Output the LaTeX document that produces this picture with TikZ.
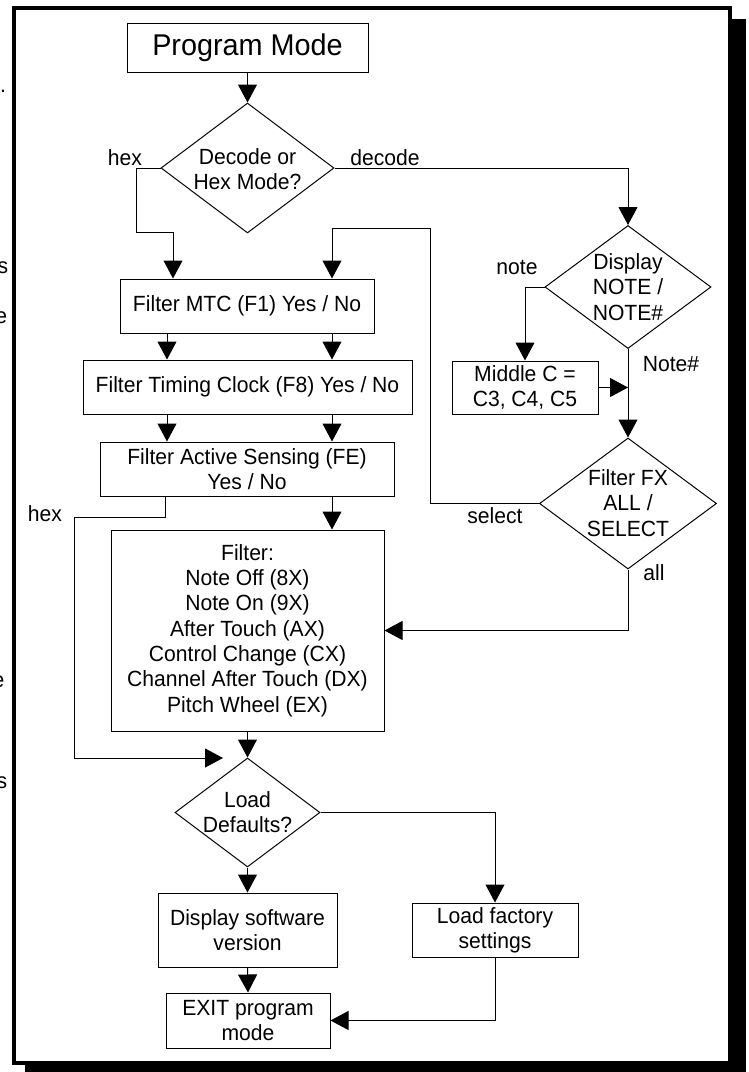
\documentclass[tikz,border=0pt]{standalone}
\usepackage{fontspec}
\setmainfont{Liberation Sans}[FakeStretch=0.96]
\usetikzlibrary{arrows.meta,shapes.geometric}
\newcommand\diafont{\fontsize{22}{25.3}\selectfont}
\newcommand\bigdiafont{\fontsize{30}{34}\selectfont}
\begin{document}
\begin{tikzpicture}[x=1pt,y=-1pt,
  box/.style={draw, line width=1pt, inner sep=0pt, align=center, font=\diafont},
  dia/.style={draw, diamond, line width=1pt, inner sep=0pt},
  txt/.style={inner sep=0pt, align=center, font=\diafont},
  lab/.style={inner sep=0pt, font=\diafont},
  arr/.style={line width=1pt, -{Triangle[length=18pt,width=19pt]}}]
\useasboundingbox (0,0) rectangle (749,1072);
% frame with shadow
\fill[black] (25,19) rectangle (746,1080);
\filldraw[fill=white, draw=black, line width=4pt] (14,8) rectangle (729.7,1063);
% clipped letters at the left edge (as in the reference)
\node[lab, anchor=base west] (fr1) at (0,92) {.};
\node[lab, anchor=base west] (fr2) at (-2.6,273) {s};
\node[lab, anchor=base west] (fr3) at (-4.9,323) {e};
\node[lab, anchor=base west] (fr4) at (-7.6,687) {e};
\node[lab, anchor=base west] (fr5) at (-3.6,788) {s};
% nodes
\node[box, font=\bigdiafont, minimum width=241, minimum height=49] (pm) at (247.5,47.5) {Program Mode};
\node[dia, minimum width=173, minimum height=130] (dec) at (247.5,168) {};
\node[txt] (dect) at (247.5,169) {Decode or\\Hex Mode?};
\node[box, minimum width=254, minimum height=54] (mtc) at (247,306) {Filter MTC (F1) Yes / No};
\node[box, minimum width=329, minimum height=54] (tim) at (247.5,387) {Filter Timing Clock (F8) Yes / No};
\node[box, minimum width=294, minimum height=54] (act) at (247,469) {Filter Active Sensing (FE)\\Yes / No};
\node[box, minimum width=273, minimum height=201] (filt) at (247.5,630.5) {Filter:\\Note Off (8X)\\Note On (9X)\\After Touch (AX)\\Control Change (CX)\\Channel After Touch (DX)\\Pitch Wheel (EX)};
\node[dia, minimum width=166, minimum height=123] (disp) at (628,287) {};
\node[txt] (dispt) at (628,287) {Display\\NOTE /\\NOTE\#};
\node[box, minimum width=146, minimum height=53] (midc) at (525,387.5) {Middle C =\\C3, C4, C5};
\node[dia, minimum width=177, minimum height=131] (fx) at (628,503.5) {};
\node[txt] (fxt) at (628,503) {Filter FX\\ALL /\\SELECT};
\node[dia, minimum width=145, minimum height=109] (load) at (247.5,812.5) {};
\node[txt] (loadt) at (247.5,812) {Load\\Defaults?};
\node[box, minimum width=179, minimum height=74] (dsw) at (247.5,930) {Display software\\version};
\node[box, minimum width=166, minimum height=54] (fact) at (495,930) {Load factory\\settings};
\node[box, minimum width=164, minimum height=55] (exit) at (248,1020.5) {EXIT program\\mode};
% labels
\node[lab] (lhex1) at (125,158) {hex};
\node[lab] (ldec) at (385,158) {decode};
\node[lab] (lnote) at (517,267) {note};
\node[lab] (lnoteh) at (671,364) {Note\#};
\node[lab] (lsel) at (495,515.5) {select};
\node[lab] (lall) at (654,573) {all};
\node[lab] (lhex2) at (45,514) {hex};
% helper coordinates
\coordinate (cH) at (173,0);
\coordinate (cL) at (167,0);
\coordinate (cR) at (332,0);
\coordinate (cA) at (165,0);
\coordinate (hexend) at (223,758);
\coordinate (lp) at (430,228);
\coordinate (hp) at (136,232);
\coordinate (hp2) at (74,517);
% connectors
\draw[arr] (pm.south) -- (dec.north);
\draw[arr] (dec.west) -| (hp) -| (mtc.north -| cH);
\draw[arr] (dec.east) -| (disp.north);
\draw[arr] (disp.west) -| (midc.north);
\draw[arr] (disp.south) -- (fx.north);
\draw[arr] (midc.east) -- (midc.east -| disp.south);
\draw[arr] (fx.west) -| (lp) -| (mtc.north -| cR);
\draw[arr] (fx.south) |- (filt.east);
\draw[arr] (mtc.south -| cL) -- (tim.north -| cL);
\draw[arr] (mtc.south -| cR) -- (tim.north -| cR);
\draw[arr] (tim.south -| cL) -- (act.north -| cL);
\draw[arr] (tim.south -| cR) -- (act.north -| cR);
\draw[arr] (act.south -| cA) |- (hp2) |- (hexend);
\draw[arr] (act.south -| cR) -- (filt.north -| cR);
\draw[arr] (filt.south) -- (load.north);
\draw[arr] (load.east) -| (fact.north);
\draw[arr] (load.south) -- (dsw.north);
\draw[arr] (dsw.south) -- (exit.north);
\draw[arr] (fact.south) |- (exit.east);
\end{tikzpicture}
\end{document}
